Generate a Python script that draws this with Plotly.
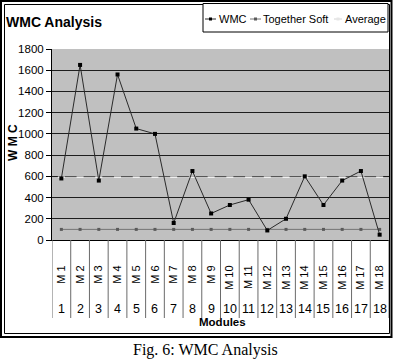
import plotly.graph_objects as go

# ---------------- data ----------------
modules = ["M 1", "M 2", "M 3", "M 4", "M 5", "M 6", "M 7", "M 8", "M 9",
           "M 10", "M 11", "M 12", "M 13", "M 14", "M 15", "M 16", "M 17", "M 18"]
module_numbers = ["1", "2", "3", "4", "5", "6", "7", "8", "9",
                  "10", "11", "12", "13", "14", "15", "16", "17", "18"]
wmc = [580, 1650, 560, 1560, 1050, 1000, 160, 650, 250,
       330, 380, 90, 200, 600, 330, 560, 650, 50]
together_soft = [100, 100, 100, 100, 100, 100, 100, 100, 100,
                 100, 100, 100, 100, 100, 100, 100, 100, 100]
average = [592, 592, 592, 592, 592, 592, 592, 592, 592,
           592, 592, 592, 592, 592, 592, 592, 592, 592]
y_ticks = [0, 200, 400, 600, 800, 1000, 1200, 1400, 1600, 1800]

# ---------------- geometry ----------------
W, H = 393, 359
ML, MR, MT, MB = 52, 4, 49, 119
PW = W - ML - MR
PH = H - MT - MB

def px2x(px):
    return (px - ML) / PW

def px2y(py):
    return 1 - (py - MT) / PH

SANS = "Liberation Sans, Arial, sans-serif"
SERIF = "Liberation Serif, Times New Roman, serif"

fig = go.Figure()

fig.add_trace(go.Scatter(
    x=modules, y=average, name="Average", mode="lines+markers",
    line=dict(color="#cbcbcb", width=1),
    marker=dict(symbol="line-ew", size=5, color="#f4f4f4",
                line=dict(color="#f4f4f4", width=1.5)),
    showlegend=False))
fig.add_trace(go.Scatter(
    x=modules, y=together_soft, name="Together Soft", mode="lines+markers",
    line=dict(color="#747474", width=1),
    marker=dict(symbol="square", size=3, color="#5a5a5a"),
    showlegend=False))
fig.add_trace(go.Scatter(
    x=modules, y=wmc, name="WMC", mode="lines+markers",
    line=dict(color="#2a2a2a", width=1),
    marker=dict(symbol="square", size=4, color="black"),
    showlegend=False))

shapes = []
annotations = []

# category dividers below the axis
for i in range(len(modules) + 1):
    shapes.append(dict(type="line", xref="x", yref="paper",
                       x0=i - 0.5, x1=i - 0.5, y0=0, y1=px2y(318),
                       line=dict(color="#6a6a6a", width=1)))

# outer category row (numbers)
for m, n in zip(modules, module_numbers):
    annotations.append(dict(x=m, xref="x", y=px2y(309), yref="paper",
                            text=n, showarrow=False, xanchor="center", yanchor="middle",
                            font=dict(family=SANS, size=12.5, color="black")))

# axis titles
annotations.append(dict(x=px2x(222), y=px2y(322), xref="paper", yref="paper",
                        text="<b>Modules</b>", showarrow=False,
                        xanchor="center", yanchor="middle",
                        font=dict(family=SANS, size=11.5, color="black")))
annotations.append(dict(x=px2x(13), y=px2y(143), xref="paper", yref="paper",
                        text="<b>W M C</b>", textangle=-90, showarrow=False,
                        xanchor="center", yanchor="middle",
                        font=dict(family=SANS, size=12, color="black")))

# caption
annotations.append(dict(x=px2x(205), y=px2y(350), xref="paper", yref="paper",
                        text="Fig. 6: WMC Analysis", showarrow=False,
                        xanchor="center", yanchor="middle",
                        font=dict(family=SERIF, size=16, color="black")))

# frames
shapes.append(dict(type="rect", xref="paper", yref="paper",
                   x0=px2x(1), x1=px2x(391.5), y0=px2y(1), y1=px2y(337),
                   line=dict(color="black", width=2), layer="above"))
shapes.append(dict(type="rect", xref="paper", yref="paper",
                   x0=px2x(4.5), x1=px2x(389.5), y0=px2y(4.5), y1=px2y(333.5),
                   line=dict(color="black", width=1), layer="above"))

# manual legend
shapes.append(dict(type="rect", xref="paper", yref="paper",
                   x0=px2x(203), x1=px2x(388), y0=px2y(3.5), y1=px2y(32),
                   line=dict(color="black", width=1), fillcolor="white"))
legend_items = [
    ("WMC", "#2a2a2a", "black", 205, 216, 219),
    ("Together Soft", "#747474", "#5a5a5a", 250, 261, 263),
    ("Average", "#d4d4d4", "#e6e6e6", 334, 342, 345),
]
ly = 19
for label, lc, mc, sx0, sx1, tx in legend_items:
    shapes.append(dict(type="line", xref="paper", yref="paper",
                       x0=px2x(sx0), x1=px2x(sx1), y0=px2y(ly), y1=px2y(ly),
                       line=dict(color=lc, width=1)))
    cx = (sx0 + sx1) / 2
    shapes.append(dict(type="rect", xref="paper", yref="paper",
                       x0=px2x(cx - 1.5), x1=px2x(cx + 1.5),
                       y0=px2y(ly - 1.5), y1=px2y(ly + 1.5),
                       line=dict(width=0), fillcolor=mc))
    annotations.append(dict(x=px2x(tx), y=px2y(ly), xref="paper", yref="paper",
                            text=label, showarrow=False, xanchor="left", yanchor="middle",
                            xshift=-2, font=dict(family=SANS, size=11, color="black")))

fig.update_layout(
    width=W, height=H,
    margin=dict(l=ML, r=MR, t=MT, b=MB, autoexpand=False),
    paper_bgcolor="white", plot_bgcolor="#c0c0c0",
    title=dict(text="<b>WMC Analysis</b>", x=6 / W, xref="container", xanchor="left",
               y=1 - 22 / H, yref="container", yanchor="middle",
               font=dict(family=SANS, size=14, color="black")),
    showlegend=False,
    shapes=shapes, annotations=annotations,
    xaxis=dict(type="category", categoryorder="array", categoryarray=modules,
               range=[-0.5, len(modules) - 0.5], automargin=False,
               tickangle=-90, ticks="outside", ticklen=20, tickcolor="rgba(0,0,0,0)",
               showgrid=False, showline=True, linecolor="black", linewidth=1,
               tickfont=dict(family=SANS, size=11, color="black"), zeroline=False),
    yaxis=dict(range=[0, 1800], tickvals=y_ticks, ticks="outside", ticklen=5,
               tickcolor="black", showline=True, linecolor="black", linewidth=1,
               automargin=False,
               gridcolor="#1e1e1e", gridwidth=1, zeroline=False,
               tickfont=dict(family=SANS, size=11.5, color="black")),
)

fig.write_html("out.html", config={"displayModeBar": False},
               post_script="document.body.style.margin='0';document.body.style.overflow='hidden';")
